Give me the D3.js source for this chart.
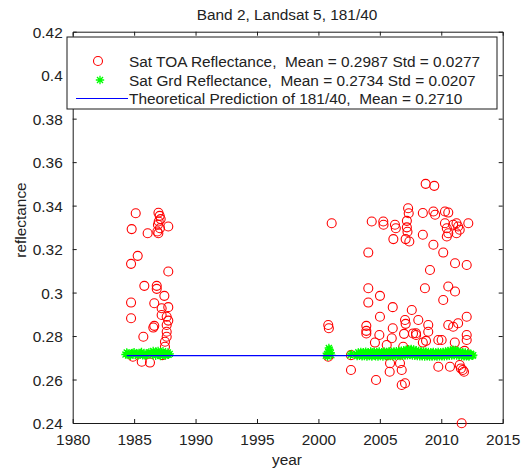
<!DOCTYPE html>
<html><head><meta charset="utf-8">
<script src="https://cdn.jsdelivr.net/npm/d3@7"></script>
<style>
html,body{margin:0;padding:0;background:#fff;}
svg{display:block;font-family:"Liberation Sans",Arial,sans-serif;}
</style></head>
<body>
<svg id="chart" width="529" height="470"></svg>
<script>
const titleText = "Band 2, Landsat 5, 181/40";
const xLabel = "year";
const yLabel = "reflectance";
const xTicks = [1980,1985,1990,1995,2000,2005,2010,2015];
const yTicks = [0.24,0.26,0.28,0.3,0.32,0.34,0.36,0.38,0.4,0.42];
const yTickLabels = ["0.24","0.26","0.28","0.3","0.32","0.34","0.36","0.38","0.4","0.42"];
const legendLabels = [
  "Sat TOA Reflectance,  Mean = 0.2987 Std = 0.0277",
  "Sat Grd Reflectance,  Mean = 0.2734 Std = 0.0207",
  "Theoretical Prediction of 181/40,  Mean = 0.2710"
];

// Sat TOA reflectance
const toaYears = [
 1985.13,1986.98,1987.08,1987.16,1987.0,1986.94,1987.1,1986.89,1986.97,1987.78,1984.8,1986.1,1985.29,1984.75,1987.78,1985.83,1986.84,1986.84,1987.46,1984.75,1986.64,1987.24,1987.78,1984.75,1987.24,1987.65,1987.78,1986.64,1986.56,1987.65,1987.65,1985.75,1987.65,1987.51,1987.51,1985.62,1986.29,1984.9,1987.3,
 2001.08,2000.8,2000.85,2000.8,2002.65,2002.65,
 2004.34,2005.28,2005.3,2006.23,2006.3,2006.1,2007.3,2007.35,2007.2,2007.2,2007.25,2007.1,2007.4,
 2008.73,2009.43,2008.5,2009.36,2009.5,2008.5,2010.3,2010.57,2010.3,2010.45,2010.97,2011.24,2011.37,2011.5,2011.24,2012.2,2010.57,2010.45,2009.36,2010.16,2011.12,2012.07,2009.08,2008.67,2010.57,2011.12,2010.16,
 2004.06,2004.06,2005.01,2004.06,2006.05,2005.01,2007.6,2003.9,2003.9,2003.9,2004.96,2006.05,2005.97,2004.6,2005.56,2007.05,2007.1,2006.97,2006.9,2007.94,
 2008.13,2008.94,2008.94,2007.7,2007.95,2008.5,2008.76,2009.76,2010.03,2010.57,2010.97,2011.37,2012.07,2012.07,2012.07,2011.1,2011.9,
 2004.69,2005.8,2005.83,2006.78,2006.64,2005.6,2006.78,2007.05,2009.76,2010.71,2011.5,2011.6,2011.75,2011.85,2011.66
];
const toaValues = [
 0.3365,0.3367,0.3353,0.3338,0.3327,0.3312,0.3296,0.3281,0.3273,0.3304,0.3292,0.3273,0.3169,0.3132,0.3097,0.3031,0.3031,0.3017,0.2985,0.2954,0.2951,0.2928,0.2933,0.2882,0.2897,0.2889,0.2871,0.2847,0.2839,0.2851,0.2820,0.2797,0.2797,0.2774,0.2751,0.2682,0.2678,0.2705,0.2712,
 0.3319,0.2851,0.2836,0.2705,0.2712,0.2644,
 0.3327,0.3327,0.3312,0.3312,0.3296,0.3246,0.3388,0.3365,0.3330,0.3300,0.3280,0.3246,0.3235,
 0.3500,0.3491,0.3366,0.3373,0.3358,0.3266,0.3373,0.3368,0.3319,0.3296,0.3312,0.3319,0.3304,0.3289,0.3273,0.3319,0.3273,0.3258,0.3220,0.3184,0.3135,0.3127,0.3104,0.3020,0.3028,0.3005,0.2966,
 0.3184,0.3020,0.2985,0.2954,0.2933,0.2889,0.2920,0.2847,0.2824,0.2812,0.2805,0.2836,0.2790,0.2770,0.2759,0.2874,0.2856,0.2810,0.2751,0.2813,
 0.2874,0.2851,0.2820,0.2812,0.2805,0.2770,0.2778,0.2782,0.2782,0.2851,0.2843,0.2859,0.2889,0.2805,0.2782,0.2770,0.2732,
 0.2598,0.2636,0.2675,0.2575,0.2675,0.2713,0.2644,0.2583,0.2659,0.2659,0.2667,0.2651,0.2644,0.2636,0.2399
];

// Sat Grd reflectance
const grdYears = [
 1984.3,1984.4,1984.5,1984.6,1984.7,1984.8,1984.9,1985.0,1985.1,1985.2,1985.3,1985.4,1985.5,1985.6,1985.7,1985.8,1985.9,1986.0,1986.1,1986.2,1986.3,1986.4,1986.5,1986.55,1986.6,1986.7,1986.75,1986.8,1986.9,1986.95,1987.0,1987.1,1987.15,1987.2,1987.3,1987.35,1987.4,1987.5,1987.55,1987.6,1987.7,1987.75,1987.8,1987.9,
 2000.6,2000.7,2000.75,2000.8,2000.9,2000.85,2001.0,2001.05,2002.6,2002.7,
 2003.1,2003.15,2003.2,2003.25,2003.3,2003.35,2003.4,2003.45,2003.5,2003.55,2003.6,2003.65,2003.7,2003.75,2003.8,2003.85,2003.9,2003.95,2004.0,2004.05,
 2004.1,2004.15,2004.2,2004.25,2004.3,2004.35,2004.4,2004.45,2004.5,2004.55,2004.6,2004.65,2004.7,2004.75,2004.8,2004.85,2004.9,2004.95,2005.0,2005.05,
 2005.1,2005.15,2005.2,2005.25,2005.3,2005.35,2005.4,2005.45,2005.5,2005.55,2005.6,2005.65,2005.7,2005.75,2005.8,2005.85,2005.9,2005.95,2006.0,2006.05,
 2006.1,2006.15,2006.2,2006.25,2006.3,2006.35,2006.4,2006.45,2006.5,2006.55,2006.6,2006.65,2006.7,2006.75,2006.8,2006.85,2006.9,2006.95,2007.0,2007.05,
 2007.1,2007.15,2007.2,2007.25,2007.3,2007.35,2007.4,2007.45,2007.5,2007.55,2007.6,2007.65,2007.7,2007.75,2007.8,2007.85,2007.9,2007.95,2008.0,2008.05,
 2008.1,2008.15,2008.2,2008.25,2008.3,2008.35,2008.4,2008.45,2008.5,2008.55,2008.6,2008.65,2008.7,2008.75,2008.8,2008.85,2008.9,2008.95,2009.0,2009.05,
 2009.1,2009.15,2009.2,2009.25,2009.3,2009.35,2009.4,2009.45,2009.5,2009.55,2009.6,2009.65,2009.7,2009.75,2009.8,2009.85,2009.9,2009.95,2010.0,2010.05,
 2010.1,2010.15,2010.2,2010.25,2010.3,2010.35,2010.4,2010.45,2010.5,2010.55,2010.6,2010.65,2010.7,2010.75,2010.8,2010.85,2010.9,2010.95,2011.0,2011.05,
 2011.1,2011.15,2011.2,2011.25,2011.3,2011.35,2011.4,2011.45,2011.5,2011.55,2011.6,2011.65,2011.7,2011.75,2011.8,2011.85,2011.9,2011.95,2012.0,2012.05,
 2012.1,2012.15,2012.2,2012.25,2012.3,2012.4,2012.45,2012.55,2012.6
];
const grdValues = [
 0.2715,0.2724,0.2720,0.2712,0.2709,0.2718,0.2722,0.2726,0.2713,0.2719,0.2710,0.2716,0.2722,0.2727,0.2711,0.2717,0.2709,0.2714,0.2720,0.2725,0.2716,0.2722,0.2713,0.2731,0.2725,0.2718,0.2709,0.2728,0.2715,0.2732,0.2722,0.2712,0.2708,0.2726,0.2717,0.2730,0.2721,0.2713,0.2710,0.2719,0.2716,0.2724,0.2714,0.2718,
 0.2710,0.2718,0.2706,0.2726,0.2738,0.2745,0.2722,0.2712,0.2712,0.2718,
 0.2716,0.2708,0.2712,0.2725,0.2720,0.2709,0.2714,0.2727,0.2718,0.2707,0.2711,0.2726,0.2722,0.2708,0.2715,0.2728,0.2719,0.2706,0.2713,0.2725,
 0.2721,0.2708,0.2716,0.2729,0.2711,0.2706,0.2724,0.2712,0.2717,0.2728,0.2713,0.2707,0.2720,0.2727,0.2715,0.2706,0.2722,0.2729,0.2712,0.2708,
 0.2719,0.2726,0.2714,0.2706,0.2723,0.2729,0.2716,0.2708,0.2711,0.2727,0.2720,0.2707,0.2715,0.2730,0.2725,0.2708,0.2713,0.2728,0.2719,0.2707,
 0.2716,0.2729,0.2722,0.2708,0.2712,0.2730,0.2718,0.2709,0.2721,0.2732,0.2714,0.2708,0.2724,0.2733,0.2717,0.2709,0.2726,0.2735,0.2720,0.2710,
 0.2729,0.2737,0.2722,0.2711,0.2733,0.2740,0.2727,0.2712,0.2736,0.2741,0.2724,0.2710,0.2731,0.2738,0.2719,0.2709,0.2728,0.2735,0.2716,0.2708,
 0.2723,0.2731,0.2718,0.2707,0.2725,0.2730,0.2713,0.2707,0.2721,0.2729,0.2716,0.2706,0.2724,0.2728,0.2714,0.2707,0.2720,0.2727,0.2711,0.2706,
 0.2718,0.2726,0.2713,0.2706,0.2722,0.2727,0.2715,0.2707,0.2710,0.2725,0.2719,0.2706,0.2714,0.2727,0.2721,0.2707,0.2712,0.2726,0.2717,0.2707,
 0.2713,0.2727,0.2720,0.2707,0.2715,0.2729,0.2723,0.2708,0.2716,0.2731,0.2726,0.2709,0.2719,0.2734,0.2730,0.2710,0.2722,0.2737,0.2733,0.2711,
 0.2725,0.2736,0.2729,0.2710,0.2718,0.2731,0.2724,0.2709,0.2714,0.2728,0.2720,0.2708,0.2712,0.2726,0.2718,0.2707,0.2710,0.2724,0.2716,0.2707,
 0.2709,0.2722,0.2714,0.2706,0.2711,0.2719,0.2715,0.2709,0.2712
];

// Theoretical prediction
const theoYears = [1984.4, 2012.5];
const theoValues = [0.2710, 0.2710];

const svg = d3.select("#chart");
const L = 72.7, R = 502.7, T = 31.7, B = 423;
const x = d3.scaleLinear().domain([1980, 2015]).range([L, R]);
const y = d3.scaleLinear().domain([0.24, 0.42]).range([B, T]);
const axisColor = "#1a1a1a";
const fs = "15.4px";

svg.append("rect").attr("x", L).attr("y", T).attr("width", R - L).attr("height", B - T)
  .attr("fill", "#fff");

const tl = 4;
const gB = svg.append("g").attr("transform", `translate(0,${B})`)
  .call(d3.axisBottom(x).tickValues(xTicks).tickSize(-tl).tickPadding(8).tickFormat(d3.format("d")));
const gT = svg.append("g").attr("transform", `translate(0,${T})`)
  .call(d3.axisTop(x).tickValues(xTicks).tickSize(-tl).tickFormat(""));
const gL = svg.append("g").attr("transform", `translate(${L},0)`)
  .call(d3.axisLeft(y).tickValues(yTicks).tickSize(-tl).tickPadding(10).tickFormat((d, i) => yTickLabels[i]));
const gR = svg.append("g").attr("transform", `translate(${R},0)`)
  .call(d3.axisRight(y).tickValues(yTicks).tickSize(-tl).tickFormat(""));
[gB, gT, gL, gR].forEach(g => {
  g.select(".domain").attr("stroke", axisColor).attr("stroke-width", 1);
  g.selectAll(".tick line").attr("stroke", axisColor);
  g.selectAll("text").attr("fill", "#222").style("font-size", fs).style("font-family", "Liberation Sans, Arial, sans-serif");
});
gB.selectAll("text").attr("dy", null).attr("y", 22);
gL.selectAll("text").attr("dy", "0.36em");
gT.selectAll(".tick").filter(d => d === 1980 || d === 2015).select("line").remove();
gB.selectAll(".tick").filter(d => d === 1980 || d === 2015).select("line").remove();
gL.selectAll(".tick").filter(d => d === 0.24 || d === 0.42).select("line").remove();
gR.selectAll(".tick").filter(d => d === 0.24 || d === 0.42).select("line").remove();

function starPath(r) {
  const d = r * 0.72;
  return `M${-r},0L${r},0M0,${-r}L0,${r}M${-d},${-d}L${d},${d}M${-d},${d}L${d},${-d}`;
}

const plot = svg.append("g");
plot.selectAll("circle.toa").data(toaYears.map((t, i) => [t, toaValues[i]]))
  .enter().append("circle").attr("class", "toa")
  .attr("cx", d => x(d[0])).attr("cy", d => y(d[1])).attr("r", 4.5)
  .attr("fill", "none").attr("stroke", "#f00").attr("stroke-width", 1.1);
plot.selectAll("path.grd").data(grdYears.map((t, i) => [t, grdValues[i]]))
  .enter().append("path").attr("class", "grd")
  .attr("transform", d => `translate(${x(d[0])},${y(d[1])})`)
  .attr("d", starPath(4.2))
  .attr("fill", "none").attr("stroke", "#00ff00").attr("stroke-width", 1.3);
const line = d3.line().x(d => x(d[0])).y(d => y(d[1]));
plot.append("path").datum(theoYears.map((t, i) => [t, theoValues[i]]))
  .attr("d", line).attr("fill", "none").attr("stroke", "#0000ff").attr("stroke-width", 1.3);

svg.append("text").attr("x", 287).attr("y", 19.5).attr("text-anchor", "middle")
  .style("font-size", fs).attr("fill", "#222").text(titleText);
svg.append("text").attr("x", 287).attr("y", 465).attr("text-anchor", "middle")
  .style("font-size", fs).attr("fill", "#222").text(xLabel);
svg.append("text").attr("transform", "translate(26,220) rotate(-90)").attr("text-anchor", "middle")
  .style("font-size", fs).attr("fill", "#222").text(yLabel);

const lg = svg.append("g");
lg.append("rect").attr("x", 67).attr("y", 37).attr("width", 430).attr("height", 72)
  .attr("fill", "#fff").attr("stroke", axisColor).attr("stroke-width", 1);
const rows = [61, 80, 98.5];
lg.append("circle").attr("cx", 98).attr("cy", rows[0]).attr("r", 4.5)
  .attr("fill", "none").attr("stroke", "#f00").attr("stroke-width", 1.1);
lg.append("path").attr("transform", `translate(100,${rows[1]})`).attr("d", starPath(4.2))
  .attr("fill", "none").attr("stroke", "#00ff00").attr("stroke-width", 1.3);
lg.append("line").attr("x1", 76).attr("x2", 128).attr("y1", rows[2]).attr("y2", rows[2])
  .attr("stroke", "#0000ff").attr("stroke-width", 1);
lg.selectAll("text.leg").data(legendLabels).enter().append("text").attr("class", "leg")
  .attr("x", 129).attr("y", (d, i) => rows[i]).attr("dy", "0.36em")
  .style("font-size", fs).attr("fill", "#222").attr("xml:space", "preserve")
  .text(d => d);
</script>
</body></html>
